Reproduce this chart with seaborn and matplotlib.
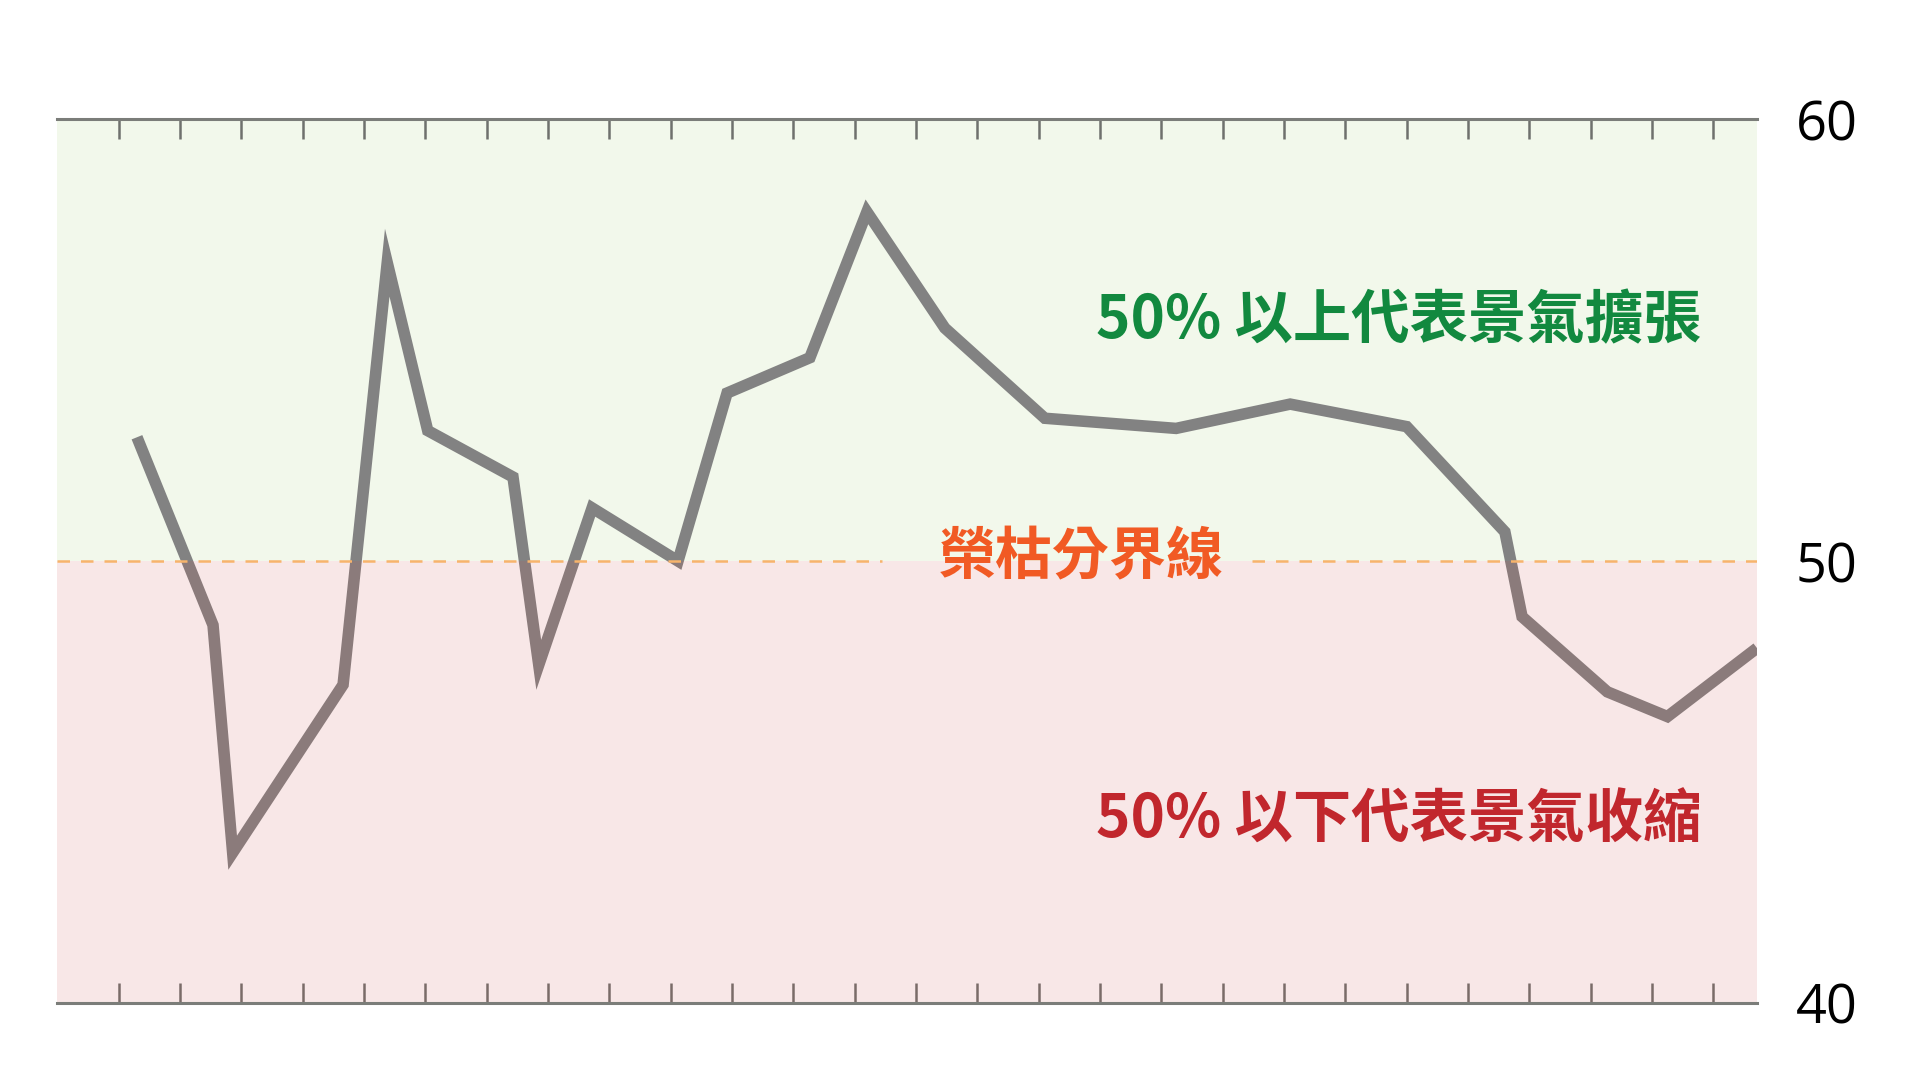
import numpy as np
import pandas as pd
import matplotlib
matplotlib.use('Agg')
import matplotlib.pyplot as plt
import seaborn as sns


# positions along the x axis (tick units, ticks at 1..27) and index values
x_pos = [1.30, 2.54, 2.86, 4.66, 5.38, 6.04, 7.43, 7.85, 8.72, 10.12, 10.92, 12.27,
         13.20, 14.47, 16.10, 18.24, 20.10, 22.00, 23.60, 23.88, 25.27, 26.25, 27.71]
values = [52.8, 48.55, 43.4, 47.2, 56.75, 52.95, 51.9, 47.65, 51.2, 50.0, 53.8, 54.6,
          57.9, 55.27, 53.23, 53.0, 53.55, 53.04, 50.66, 48.74, 47.04, 46.48, 48.03]
y_ticks = [40, 50, 60]
x_ticks = list(range(1, 28))

label_up = '50% 以上代表景氣擴張'
label_down = '50% 以下代表景氣收縮'
label_mid = '榮枯分界線'

CJK = ['Noto Sans CJK TC', 'DejaVu Sans']

sns.set_style('white')
plt.rcParams['font.family'] = CJK

df = pd.DataFrame({'x': x_pos, 'pmi': values})

fig = plt.figure(figsize = (19.2, 10.8), dpi = 100)
ax = fig.add_axes([0.0298, 0.0713, 0.9151 - 0.0298, 0.8898 - 0.0713])

ax.set_xlim(0, 27.71)
ax.set_ylim(40, 60)

# background zones
ax.axhspan(50, 60, color = '#f2f8eb', zorder = 0, lw = 0)
ax.axhspan(40, 50, color = '#ffffff', zorder = 0, lw = 0)

sns.lineplot(data = df, x = 'x', y = 'pmi', ax = ax, color = '#828282', linewidth = 8.3,
             solid_joinstyle = 'miter', solid_capstyle = 'butt', zorder = 2)

# pink tint drawn over the lower half
ax.axhspan(40, 50, color = (0.79, 0.30, 0.30), alpha = 0.13, zorder = 3, lw = 0)

# dashed boom-bust line with a gap for its label
for x0, x1 in [(0, 13.45), (19.48, 27.71)]:
	ax.plot([x0, x1], [50, 50], color = '#f7b46c', lw = 1.8, dashes = (5, 4.4), zorder = 4)

ax.text(26.8, 55.42, label_up, color = '#12893f', fontsize = 42, fontweight = 'bold',
        ha = 'right', va = 'center', family = CJK, zorder = 5)
ax.text(26.8, 44.12, label_down, color = '#c1272d', fontsize = 42, fontweight = 'bold',
        ha = 'right', va = 'center', family = CJK, zorder = 5)
ax.text(16.7, 50.08, label_mid, color = '#f15a24', fontsize = 41, fontweight = 'bold',
        ha = 'center', va = 'center', family = CJK, zorder = 5)

# axes styling
for side in ['left', 'right']:
	ax.spines[side].set_visible(False)
for side in ['top', 'bottom']:
	ax.spines[side].set_visible(True)
	ax.spines[side].set_color('#7b7d79')
	ax.spines[side].set_linewidth(2.2)
	ax.spines[side].set_zorder(6)

ax.set_xticks(x_ticks)
ax.tick_params(axis = 'x', which = 'both', direction = 'in', top = True, bottom = True,
               length = 14.4, width = 1.8, color = '#6f716d', labelbottom = False, labeltop = False)

ax.yaxis.tick_right()
ax.set_yticks(y_ticks)
ax.set_yticklabels([str(v) for v in y_ticks], fontsize = 39, family = ['Open Sans', 'DejaVu Sans'])
ax.tick_params(axis = 'y', length = 0, pad = 28, labelcolor = 'black')

ax.set_xlabel('')
ax.set_ylabel('')
ax.grid(False)
ax.set_facecolor('white')

fig.savefig('out.png', dpi = 100)
